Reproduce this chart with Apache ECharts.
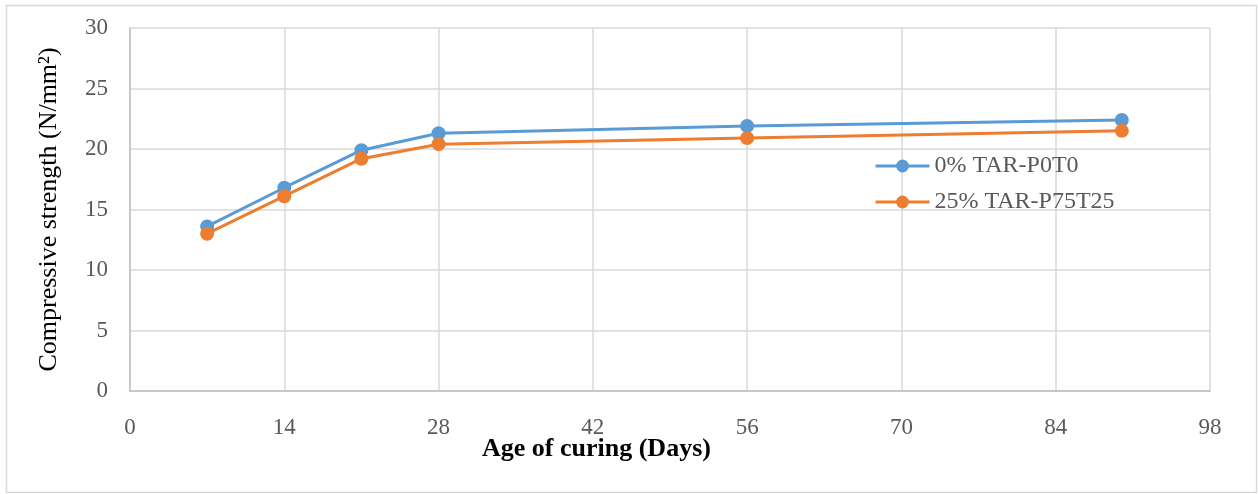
<!DOCTYPE html>
<html>
<head>
<meta charset="utf-8">
<script src="https://cdn.jsdelivr.net/npm/echarts@6/dist/echarts.min.js"></script>
<style>html,body{margin:0;padding:0;background:#fff}#c{width:1258px;height:494px}</style>
</head>
<body>
<div id="c"></div>
<script>
const days = [7, 14, 21, 28, 56, 90];
const seriesNames = ['0% TAR-P0T0', '25% TAR-P75T25'];
const p0t0 = [13.6, 16.8, 19.9, 21.3, 21.9, 22.4];
const p75t25 = [13.0, 16.1, 19.2, 20.4, 20.9, 21.5];
const xTicks = [0, 14, 28, 42, 56, 70, 84, 98];
const yTicks = [0, 5, 10, 15, 20, 25, 30];

const font = '"Liberation Serif", "Times New Roman", serif';
const chart = echarts.init(document.getElementById('c'));
const pair = (xs, ys) => xs.map((x, i) => [x, ys[i]]);
chart.setOption({
  animation: false,
  textStyle: { fontFamily: font },
  graphic: [{
    type: 'rect', left: 4, top: 3, shape: { width: 1250, height: 487 },
    style: { fill: 'none', stroke: '#d9d9d9', lineWidth: 1.5 }, silent: true
  }],
  title: {
    text: 'Age of curing (Days)', left: 482, top: 436, padding: 0,
    textStyle: { fontFamily: font, fontSize: 26, fontWeight: 'bold', color: '#000' }
  },
  legend: {
    orient: 'vertical', left: 874, top: 154, itemWidth: 54, itemHeight: 16, itemGap: 12, padding: 0,
    lineStyle: { width: 3 },
    textStyle: { fontFamily: font, fontSize: 24, color: '#595959' },
    data: seriesNames
  },
  grid: { left: 130, right: 48, top: 28, bottom: 103 },
  xAxis: {
    type: 'value', min: xTicks[0], max: xTicks[xTicks.length - 1], interval: 14,
    axisLine: { show: true, lineStyle: { color: '#bfbfbf', width: 1.5 } },
    axisTick: { show: false },
    axisLabel: { fontFamily: font, fontSize: 23, color: '#595959', margin: 25 },
    splitLine: { show: true, lineStyle: { color: '#d9d9d9', width: 1.5 } }
  },
  yAxis: {
    type: 'value', min: yTicks[0], max: yTicks[yTicks.length - 1], interval: 5,
    name: 'Compressive strength (N/mm²)', nameLocation: 'middle', nameGap: 68,
    nameTextStyle: { fontFamily: font, fontSize: 26, color: '#000' },
    axisLine: { show: true, lineStyle: { color: '#bfbfbf', width: 1.5 } },
    axisTick: { show: false },
    axisLabel: { fontFamily: font, fontSize: 23, color: '#595959', margin: 22 },
    splitLine: { show: true, lineStyle: { color: '#d9d9d9', width: 1.5 } }
  },
  series: [
    { name: seriesNames[0], type: 'line', data: pair(days, p0t0), color: '#5b9bd5',
      symbol: 'circle', symbolSize: 14, lineStyle: { width: 3, color: '#5b9bd5' },
      itemStyle: { color: '#5b9bd5' } },
    { name: seriesNames[1], type: 'line', data: pair(days, p75t25), color: '#ed7d31',
      symbol: 'circle', symbolSize: 14, lineStyle: { width: 3, color: '#ed7d31' },
      itemStyle: { color: '#ed7d31' } }
  ]
});
</script>
</body>
</html>
